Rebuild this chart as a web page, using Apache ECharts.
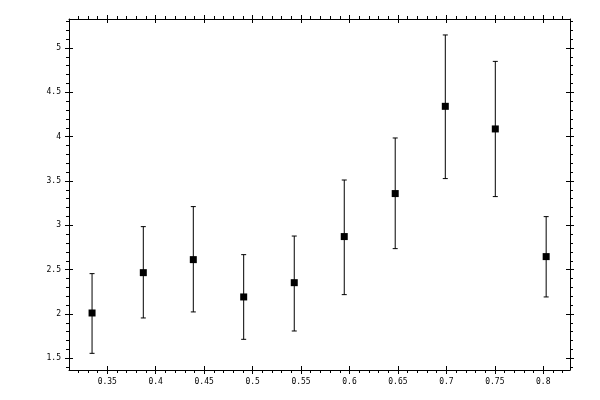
<!DOCTYPE html>
<html>
<head>
<meta charset="utf-8">
<script src="https://cdn.jsdelivr.net/npm/echarts@6/dist/echarts.min.js"></script>
<style>html,body{margin:0;padding:0;background:#fff;}#c{width:600px;height:400px;}</style>
</head>
<body>
<div id="c"></div>
<script>
// Data
const xValues = [0.3343, 0.3872, 0.4388, 0.4908, 0.5430, 0.5946, 0.6472, 0.6989, 0.7505, 0.8030];
const yValues = [2.011, 2.466, 2.613, 2.192, 2.353, 2.873, 3.358, 4.342, 4.087, 2.647];
const yLow    = [1.556, 1.955, 2.023, 1.714, 1.808, 2.218, 2.737, 3.527, 3.324, 2.192];
const yHigh   = [2.455, 2.985, 3.211, 2.669, 2.879, 3.511, 3.985, 5.147, 4.849, 3.098];

// Axis ticks
const xMajorTicks = [0.35, 0.4, 0.45, 0.5, 0.55, 0.6, 0.65, 0.7, 0.75, 0.8];
const xMinorTicks = [0.32, 0.33, 0.34, 0.36, 0.37, 0.38, 0.39, 0.41, 0.42, 0.43, 0.44,
  0.46, 0.47, 0.48, 0.49, 0.51, 0.52, 0.53, 0.54, 0.56, 0.57, 0.58, 0.59,
  0.61, 0.62, 0.63, 0.64, 0.66, 0.67, 0.68, 0.69, 0.71, 0.72, 0.73, 0.74,
  0.76, 0.77, 0.78, 0.79, 0.81, 0.82];
const yMajorTicks = [1.5, 2, 2.5, 3, 3.5, 4, 4.5, 5];
const yMinorTicks = [1.4, 1.6, 1.7, 1.8, 1.9, 2.1, 2.2, 2.3, 2.4, 2.6, 2.7, 2.8, 2.9,
  3.1, 3.2, 3.3, 3.4, 3.6, 3.7, 3.8, 3.9, 4.1, 4.2, 4.3, 4.4, 4.6, 4.7, 4.8, 4.9,
  5.1, 5.2, 5.3];
const xRange = [0.3105, 0.8276];
const yRange = [1.368, 5.327];

const pointData = xValues.map((x, i) => [x, yValues[i]]);
const errData = xValues.map((x, i) => [x, yLow[i], yHigh[i]]);

const lineStyle = { color: '#000', width: 1 };
const labelFont = { color: '#000', fontFamily: 'DejaVu Sans Mono', fontSize: 8 };

function makeAxes(position, range, majors, minors, withLabels) {
  const base = { type: 'value', position: position, min: range[0], max: range[1],
    splitLine: { show: false }, minorSplitLine: { show: false } };
  const main = Object.assign({}, base, {
    axisLine: { show: true, onZero: false, lineStyle: lineStyle },
    axisTick: { show: true, inside: false, length: 4, customValues: majors, lineStyle: lineStyle },
    axisLabel: withLabels ? Object.assign({ show: true, margin: 8, customValues: majors }, labelFont) : { show: false }
  });
  const inner = Object.assign({}, base, {
    axisLine: { show: false, onZero: false },
    axisTick: { show: true, inside: true, length: 4, customValues: majors, lineStyle: lineStyle },
    axisLabel: { show: false }
  });
  const minor = Object.assign({}, base, {
    axisLine: { show: false, onZero: false },
    axisTick: { show: true, inside: false, length: 3, customValues: minors, lineStyle: lineStyle },
    axisLabel: { show: false }
  });
  return [main, inner, minor];
}

const xAxes = makeAxes('bottom', xRange, xMajorTicks, xMinorTicks, true)
  .concat(makeAxes('top', xRange, xMajorTicks, xMinorTicks, false));
const yAxes = makeAxes('left', yRange, yMajorTicks, yMinorTicks, true)
  .concat(makeAxes('right', yRange, yMajorTicks, yMinorTicks, false));

const chart = echarts.init(document.getElementById('c'), null, { renderer: 'canvas' });
chart.setOption({
  animation: false,
  backgroundColor: '#fff',
  grid: { left: 69, right: 30, top: 19, bottom: 30, containLabel: false },
  xAxis: xAxes,
  yAxis: yAxes,
  series: [
    {
      type: 'custom',
      xAxisIndex: 0, yAxisIndex: 0,
      data: errData,
      renderItem: function (params, api) {
        const x = api.value(0);
        const lo = api.coord([x, api.value(1)]);
        const hi = api.coord([x, api.value(2)]);
        const cap = 2.5;
        const st = { stroke: '#000', lineWidth: 1 };
        return {
          type: 'group',
          children: [
            { type: 'line', shape: { x1: lo[0], y1: lo[1], x2: hi[0], y2: hi[1] }, style: st },
            { type: 'line', shape: { x1: lo[0] - cap, y1: lo[1], x2: lo[0] + cap, y2: lo[1] }, style: st },
            { type: 'line', shape: { x1: hi[0] - cap, y1: hi[1], x2: hi[0] + cap, y2: hi[1] }, style: st }
          ]
        };
      }
    },
    {
      type: 'scatter',
      xAxisIndex: 0, yAxisIndex: 0,
      data: pointData,
      symbol: 'rect',
      symbolSize: 7,
      itemStyle: { color: '#000', opacity: 1 },
      emphasis: { disabled: true }
    }
  ]
});
</script>
</body>
</html>
